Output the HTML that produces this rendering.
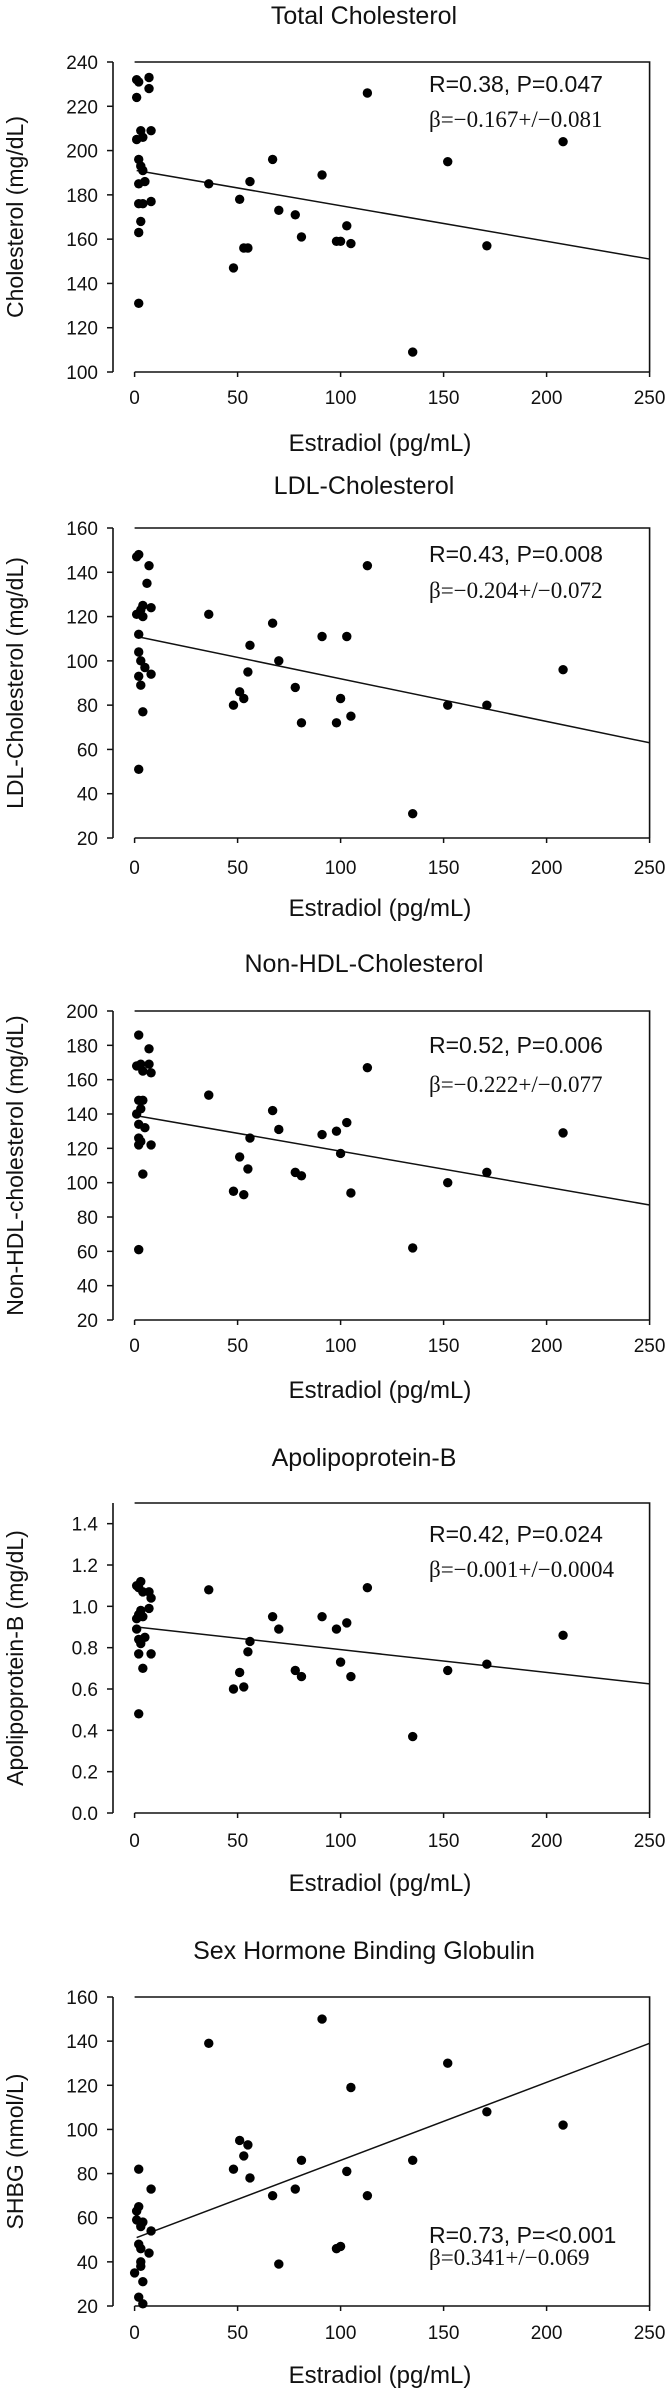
<!DOCTYPE html>
<html><head><meta charset="utf-8">
<style>
html,body{margin:0;padding:0;background:#fff;}
svg{display:block;}
text{font-family:"Liberation Sans",Arial,sans-serif;fill:#111;}
.serif{font-family:"Liberation Serif","Times New Roman",serif;}
</style></head>
<body>
<svg id="fig" width="669" height="2394" viewBox="0 0 669 2394" xmlns="http://www.w3.org/2000/svg"></svg>
<script>
// shared x data (Estradiol pg/mL)
const xTicks = [0, 50, 100, 150, 200, 250];

const titles = ["Total Cholesterol", "LDL-Cholesterol", "Non-HDL-Cholesterol", "Apolipoprotein-B", "Sex Hormone Binding Globulin"];
const yTitles = ["Cholesterol (mg/dL)", "LDL-Cholesterol (mg/dL)", "Non-HDL-cholesterol (mg/dL)", "Apolipoprotein-B (mg/dL)", "SHBG (nmol/L)"];
const rTexts = ["R=0.38, P=0.047", "R=0.43, P=0.008", "R=0.52, P=0.006", "R=0.42, P=0.024", "R=0.73, P=<0.001"];
const betaTexts = ["β=−0.167+/−0.081", "β=−0.204+/−0.072", "β=−0.222+/−0.077", "β=−0.001+/−0.0004", "β=0.341+/−0.069"];

// Panel 1 – Total cholesterol
const x1 = [1,2,7,7,1,3,8,4,1,2,3,4,2,5,2,4,8,3,2,2, 36,48,51,53,55,56,67,70,78,81,91,98,100,103,105,113,135,152,171,208];
const y1 = [232,231,233,228,224,209,209,206,205,196,193,191,185,186,176,176,177,168,163,131, 185,147,178,156,156,186,196,173,171,161,189,159,159,166,158,226,109,195,157,204];
const yTicks1 = [100,120,140,160,180,200,220,240];
const fit1 = [191, 151];

// Panel 2 – LDL
const x2 = [1,2,7,6,4,3,1,4,8,2,2,3,5,2,8,3,4,2, 36,48,51,53,55,56,67,70,78,81,91,98,100,103,105,113,135,152,171,208];
const y2 = [147,148,143,135,125,123,121,120,124,112,104,100,97,93,94,89,77,51, 121,80,86,83,95,107,117,100,88,72,111,72,83,111,75,143,31,80,80,96];
const yTicks2 = [20,40,60,80,100,120,140,160];
const fit2 = [111, 63];

// Panel 3 – Non-HDL
const x3 = [2,1,3,7,7,4,8,2,4,3,1,2,5,2,3,2,8,4,2, 36,48,51,53,55,56,67,70,78,81,91,98,100,103,105,113,135,152,171,208];
const y3 = [186,168,169,178,169,165,164,148,148,143,140,134,132,126,124,122,122,105,61, 151,95,115,93,108,126,142,131,106,104,128,130,117,135,94,167,62,100,106,129];
const yTicks3 = [20,40,60,80,100,120,140,160,180,200];
const fit3 = [139, 87];

// Panel 4 – Apolipoprotein-B
const x4 = [1,3,2,4,7,8,7,3,1,4,2,1,2,5,3,2,8,4,2, 36,48,51,53,55,56,67,70,78,81,91,98,100,103,105,113,135,152,171,208];
const y4 = [1.10,1.12,1.09,1.07,1.07,1.04,0.99,0.98,0.94,0.95,0.96,0.89,0.84,0.85,0.82,0.77,0.77,0.70,0.48, 1.08,0.60,0.68,0.61,0.78,0.83,0.95,0.89,0.69,0.66,0.95,0.89,0.73,0.92,0.66,1.09,0.37,0.69,0.72,0.86];
const yTicks4 = [0.0,0.2,0.4,0.6,0.8,1.0,1.2,1.4];
const fit4 = [0.90, 0.625];

// Panel 5 – SHBG
const x5 = [2,2,1,1,4,3,8,2,3,7,3,3,0,4,2,4,8, 36,48,51,53,55,56,67,70,78,81,91,98,100,103,105,113,135,152,171,208];
const y5 = [82,65,63,59,58,56,54,48,46,44,40,38,35,31,24,21,73, 139,82,95,88,93,78,70,39,73,86,150,46,47,81,119,70,86,130,108,102];
const yTicks5 = [20,40,60,80,100,120,140,160];
const fit5 = [51, 139];

const xsAll = [x1,x2,x3,x4,x5];
const ysAll = [y1,y2,y3,y4,y5];
const yTickAll = [yTicks1,yTicks2,yTicks3,yTicks4,yTicks5];
const fitAll = [fit1,fit2,fit3,fit4,fit5];
const yMin = [100,20,20,0,20];
const yMax = [240,160,200,1.5,160];
const tickDecimals = [0,0,0,1,0];

// layout (not data)
const L = [
 {title:15, top:62, bottom:372, tick:404, xlab:451, r:92, b:127},
 {title:485, top:528, bottom:838, tick:874, xlab:916, r:562, b:598},
 {title:963, top:1011, bottom:1320, tick:1352, xlab:1398, r:1053, b:1092},
 {title:1457, top:1503, bottom:1813, tick:1847, xlab:1891, r:1542, b:1577},
 {title:1950, top:1997, bottom:2306, tick:2339, xlab:2383, r:2243, b:2265}
];
const X0 = 134.6, X1 = 649.6, YAX = 113;
const NS = "http://www.w3.org/2000/svg";
const svg = document.getElementById('fig');
function el(tag, attrs, parent){ const e=document.createElementNS(NS,tag); for(const k in attrs) e.setAttribute(k,attrs[k]); (parent||svg).appendChild(e); return e; }
function xScale(v){ return X0 + (v - 0) / 250 * (X1 - X0); }

for (let p = 0; p < 5; p++) {
  const lay = L[p];
  const g = el('g', {});
  
  
  const yScale = v => lay.bottom - (v - yMin[p]) / (yMax[p] - yMin[p]) * (lay.bottom - lay.top);

  const t = el('text', {x:364, y:lay.title + 9, 'text-anchor':'middle', 'font-size':'25'}, g);
  t.textContent = titles[p];
  
  

  const fr = el('path', {d:`M${X0} ${lay.top} H${X1} V${lay.bottom}`, fill:'none', stroke:'#111', 'stroke-width':'1.6'}, g);
  
  
  const ya = el('line', {x1:YAX, x2:YAX, y1:lay.top, y2:lay.bottom, stroke:'#111', 'stroke-width':'1.6'}, g);
  
  
  const xa = el('line', {x1:X0, x2:X1, y1:lay.bottom, y2:lay.bottom, stroke:'#111', 'stroke-width':'1.6'}, g);
  
  

  yTickAll[p].forEach(v => {
    const yy = yScale(v);
    el('line', {x1:YAX-6, x2:YAX, y1:yy, y2:yy, stroke:'#111', 'stroke-width':'1.5'}, g);
    const tl = el('text', {x:YAX-15, y:yy+7, 'text-anchor':'end', 'font-size':'19'}, g);
    tl.textContent = v.toFixed(tickDecimals[p]);
    
    
  });
  xTicks.forEach(v => {
    const xx = xScale(v);
    el('line', {x1:xx, x2:xx, y1:lay.bottom, y2:lay.bottom+5, stroke:'#111', 'stroke-width':'1.5'}, g);
    const tl = el('text', {x:xx, y:lay.tick, 'text-anchor':'middle', 'font-size':'19'}, g);
    tl.textContent = v;
    
    
  });

  const xl = el('text', {x:380, y:lay.xlab, 'text-anchor':'middle', 'font-size':'24'}, g);
  xl.textContent = 'Estradiol (pg/mL)';
  
  

  const cy = (lay.top + lay.bottom)/2;
  const yl = el('text', {x:0, y:0, 'text-anchor':'middle', 'font-size':'23', transform:`translate(23 ${cy}) rotate(-90)`}, g);
  yl.textContent = yTitles[p];
  
  

  const fit = fitAll[p];
  const rl = el('line', {x1:xScale(1), y1:yScale(fit[0]), x2:xScale(250), y2:yScale(fit[1]), stroke:'#111', 'stroke-width':'1.5'}, g);
  
  

  const xs = xsAll[p], ys = ysAll[p];
  for (let i = 0; i < xs.length; i++) {
    const c = el('circle', {cx:xScale(xs[i]), cy:yScale(ys[i]), r:4.7, fill:'#000'}, g);
    
    
  }

  const rt = el('text', {x:429, y:lay.r, 'font-size':'23'}, g);
  rt.textContent = rTexts[p];
  
  
  const bt = el('text', {x:429, y:lay.b, 'font-size':'23', class:'serif'}, g);
  bt.textContent = betaTexts[p];
  
  
}
</script>
</body></html>
